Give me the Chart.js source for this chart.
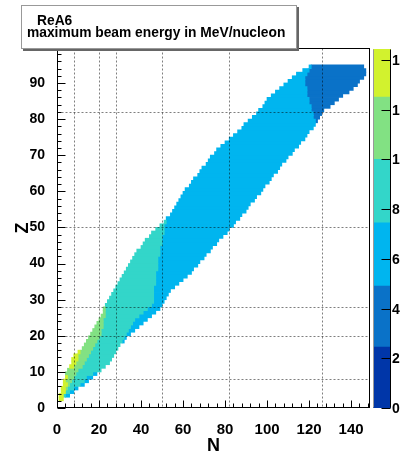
<!DOCTYPE html>
<html>
<head>
<meta charset="utf-8">
<title>ReA6 - maximum beam energy</title>
<script src="https://cdn.jsdelivr.net/npm/chart.js"></script>
<style>
    html, body {
        margin: 0;
        padding: 0;
        background: #fff;
        width: 400px;
        height: 457px;
        overflow: hidden;
    }
    body {
        position: relative;
        font-family: 'Liberation Sans', Arial, sans-serif;
    }
    #main { position: absolute; left: 0; top: 0; }
    #palette { position: absolute; left: 360px; top: 0; z-index: 1; }
    .pave {
        position: absolute;
        left: 21px;
        top: 5px;
        width: 274px;
        height: 42px;
        background: #fff;
        border: 1px solid #999;
        box-shadow: 2px 2px 0 #666;
        z-index: 2;
    }
    .pave div {
        position: absolute;
        font-weight: bold;
        font-size: 13.8px;
        line-height: 14px;
        white-space: nowrap;
        color: #000;
    }
</style>
</head>
<body>

<canvas id="main" width="400" height="457"></canvas>
<canvas id="palette" width="40" height="457"></canvas>

<div class="pave">
    <div style="left:15px; top:8px;">ReA6</div>
    <div style="left:5px; top:19.5px;">maximum beam energy in MeV/nucleon</div>
</div>

<script>
    // one row per Z bin; each row starts at nFirst and is split into colour bands
    // (widths in N bins), from the highest energy (left) to the lowest (right)
    const zRows = [
        2, 3, 4, 5, 6, 7, 8, 9, 10, 11,
        12, 13, 14, 15, 16, 17, 18, 19, 20, 21,
        22, 23, 24, 25, 26, 27, 28, 29, 30, 31,
        32, 33, 34, 35, 36, 37, 38, 39, 40, 41,
        42, 43, 44, 45, 46, 47, 48, 49, 50, 51,
        52, 53, 54, 55, 56, 57, 58, 59, 60, 61,
        62, 63, 64, 65, 66, 67, 68, 69, 70, 71,
        72, 73, 74, 75, 76, 77, 78, 79, 80, 81,
        82, 83, 84, 85, 86, 87, 88, 89, 90, 91,
        92, 93, 94
    ];
    const nFirst = [
        1, 1, 2, 2, 3, 3, 4, 4, 5, 6,
        7, 7, 8, 10, 12, 13, 14, 15, 16, 17,
        18, 19, 20, 21, 22, 22, 23, 24, 25, 26,
        27, 28, 29, 30, 31, 32, 33, 34, 35, 36,
        37, 38, 40, 41, 42, 44, 45, 47, 49, 51,
        52, 54, 55, 56, 57, 58, 59, 60, 61, 63,
        64, 65, 67, 68, 69, 71, 72, 73, 75, 76,
        78, 80, 82, 84, 86, 88, 89, 91, 93, 95,
        96, 98, 99, 100, 102, 104, 106, 108, 110, 112,
        114, 117, 120
    ];
    const wYellow = [
        2, 2, 2, 2, 2, 1, 1, 0, 0, 2,
        2, 3, 2, 1, 0, 0, 0, 0, 0, 0,
        0, 0, 0, 0, 0, 0, 0, 0, 0, 0,
        0, 0, 0, 0, 0, 0, 0, 0, 0, 0,
        0, 0, 0, 0, 0, 0, 0, 0, 0, 0,
        0, 0, 0, 0, 0, 0, 0, 0, 0, 0,
        0, 0, 0, 0, 0, 0, 0, 0, 0, 0,
        0, 0, 0, 0, 0, 0, 0, 0, 0, 0,
        0, 0, 0, 0, 0, 0, 0, 0, 0, 0,
        0, 0, 0
    ];
    const wGreen = [
        0, 0, 0, 1, 1, 3, 3, 5, 5, 4,
        4, 4, 5, 5, 5, 5, 5, 5, 5, 4,
        4, 3, 2, 2, 1, 1, 0, 0, 0, 0,
        0, 0, 0, 0, 0, 0, 0, 0, 0, 0,
        0, 0, 0, 0, 0, 0, 0, 0, 0, 0,
        0, 0, 0, 0, 0, 0, 0, 0, 0, 0,
        0, 0, 0, 0, 0, 0, 0, 0, 0, 0,
        0, 0, 0, 0, 0, 0, 0, 0, 0, 0,
        0, 0, 0, 0, 0, 0, 0, 0, 0, 0,
        0, 0, 0
    ];
    const wTurq = [
        0, 1, 2, 3, 5, 6, 6, 8, 11, 11,
        12, 12, 12, 12, 12, 12, 12, 12, 12, 13,
        13, 14, 15, 16, 18, 20, 22, 22, 21, 20,
        19, 18, 18, 17, 16, 15, 15, 14, 13, 12,
        12, 11, 9, 9, 8, 6, 6, 4, 2, 1,
        0, 0, 0, 0, 0, 0, 0, 0, 0, 0,
        0, 0, 0, 0, 0, 0, 0, 0, 0, 0,
        0, 0, 0, 0, 0, 0, 0, 0, 0, 0,
        0, 0, 0, 0, 0, 0, 0, 0, 0, 0,
        0, 0, 0
    ];
    const wLight = [
        0, 2, 2, 2, 2, 2, 3, 2, 0, 0,
        0, 0, 0, 0, 0, 0, 1, 1, 2, 3,
        4, 5, 6, 6, 6, 6, 5, 5, 6, 7,
        8, 10, 11, 13, 15, 17, 17, 19, 20, 22,
        22, 24, 25, 26, 27, 29, 30, 31, 33, 33,
        35, 34, 35, 35, 35, 36, 36, 37, 37, 36,
        37, 37, 36, 37, 37, 36, 37, 37, 37, 37,
        37, 36, 36, 35, 34, 34, 34, 32, 29, 27,
        25, 23, 21, 20, 17, 15, 13, 10, 8, 6,
        5, 3, 1
    ];
    const wMedium = [
        0, 0, 0, 0, 0, 0, 0, 0, 0, 0,
        0, 0, 0, 0, 0, 0, 0, 0, 0, 0,
        0, 0, 0, 0, 0, 0, 0, 0, 0, 0,
        0, 0, 0, 0, 0, 0, 0, 0, 0, 0,
        0, 0, 0, 0, 0, 0, 0, 0, 0, 0,
        0, 0, 0, 0, 0, 0, 0, 0, 0, 0,
        0, 0, 0, 0, 0, 0, 0, 0, 0, 0,
        0, 0, 0, 0, 0, 0, 0, 1, 3, 4,
        6, 9, 12, 14, 17, 20, 22, 25, 26, 28,
        28, 27, 25
    ];
    // energy (MeV/u) shown by each band above, same order
    const bandEnergy = [13.5, 11.2, 8.7, 6.2, 3.7];

    const paletteEdges = [0, 2.45, 4.9, 7.45, 10.0, 12.5, 14.44];
    const paletteColors = ['#0036a8', '#0a72c8', '#00b5ef', '#33d6c9', '#82e183', '#d2f22e'];

    const magicN = [8, 20, 28, 50, 82, 126];
    const magicZ = [8, 20, 28, 50, 82];

    const FONT = "'Liberation Sans', Arial, sans-serif";
    Chart.defaults.font.family = FONT;
    Chart.defaults.color = '#000';

    function colorFor(e) {
        for (let i = 0; i < paletteColors.length; i++) {
            if (e < paletteEdges[i + 1]) return paletteColors[i];
        }
        return paletteColors[paletteColors.length - 1];
    }

    const widths = [wYellow, wGreen, wTurq, wLight, wMedium];
    const datasets = bandEnergy.map(e => ({
        label: e + ' MeV/u',
        data: [],
        backgroundColor: colorFor(e),
        borderWidth: 0,
        inflateAmount: 0.4
    }));
    zRows.forEach((z, i) => {
        let n = nFirst[i];
        widths.forEach((w, k) => {
            if (w[i] > 0) datasets[k].data.push({ y: z + 0.5, x: [n, n + w[i]] });
            n += w[i];
        });
    });

    function line(ctx, x1, y1, x2, y2) {
        ctx.beginPath();
        ctx.moveTo(x1, y1);
        ctx.lineTo(x2, y2);
        ctx.stroke();
    }

    // ROOT style frame: dotted grid at the magic numbers, inward ticks
    const rootFrame = {
        id: 'rootFrame',
        afterDatasetsDraw(chart) {
            const { ctx, chartArea: a, scales: { x, y } } = chart;
            const L = Math.round(a.left) + 0.5, R = Math.round(a.right) - 0.5;
            const T = Math.round(a.top) + 0.5, B = Math.round(a.bottom) - 0.5;
            ctx.save();
            ctx.lineWidth = 1;
            ctx.strokeStyle = 'rgba(0,0,0,0.5)';
            ctx.setLineDash([2, 2]);
            magicN.forEach(n => {
                const px = Math.round(x.getPixelForValue(n)) + 0.5;
                line(ctx, px, T, px, B);
            });
            magicZ.forEach(z => {
                const py = Math.round(y.getPixelForValue(z)) + 0.5;
                line(ctx, L, py, R, py);
            });
            ctx.setLineDash([]);
            ctx.strokeStyle = '#000';
            ctx.strokeRect(L, T, R - L, B - T);

            for (let v = 0; v <= y.max; v += 2) {
                const py = Math.round(y.getPixelForValue(v)) + 0.5;
                line(ctx, L, py, L + (v % 10 === 0 ? 8 : 4), py);
            }
            for (let v = 0; v <= x.max; v += 4) {
                const px = Math.round(x.getPixelForValue(v)) + 0.5;
                line(ctx, px, B, px, B - (v % 20 === 0 ? 7 : 4));
            }
            ctx.restore();
        }
    };

    new Chart(document.getElementById('main'), {
        type: 'bar',
        data: { datasets: datasets },
        options: {
            responsive: false,
            animation: false,
            indexAxis: 'y',
            layout: { padding: { left: 0, top: 48, right: 30, bottom: 0 } },
            datasets: { bar: { grouped: false, barPercentage: 1, categoryPercentage: 1 } },
            plugins: { legend: { display: false }, tooltip: { enabled: false } },
            scales: {
                x: {
                    type: 'linear',
                    min: 0,
                    max: 149,
                    ticks: {
                        stepSize: 20,
                        includeBounds: false,
                        maxRotation: 0,
                        padding: 5,
                        color: '#000',
                        font: { size: 15, weight: 'bold' }
                    },
                    grid: { display: false },
                    border: { display: false },
                    title: {
                        display: true,
                        text: 'N',
                        color: '#000',
                        font: { size: 18, weight: 'bold' },
                        padding: { top: 0, bottom: 0 }
                    },
                    afterFit: s => { s.height = 49; }
                },
                y: {
                    type: 'linear',
                    min: 0,
                    max: 99.7,
                    offset: false,
                    ticks: {
                        stepSize: 10,
                        includeBounds: false,
                        padding: 4,
                        color: '#000',
                        font: { size: 14, weight: 'bold' }
                    },
                    grid: { display: false, offset: false },
                    border: { display: false },
                    title: {
                        display: true,
                        text: 'Z',
                        color: '#000',
                        font: { size: 18, weight: 'bold' },
                        padding: { top: 12, bottom: 0 }
                    },
                    afterFit: s => { s.width = 57; }
                }
            }
        },
        plugins: [rootFrame]
    });

    // colour palette on the right; its labels run past the window edge as in the original
    const paletteAxis = {
        id: 'paletteAxis',
        afterDatasetsDraw(chart) {
            const { ctx, chartArea: a, scales: { y } } = chart;
            const L = Math.round(a.left) + 0.5, R = Math.round(a.right) - 0.5;
            const T = Math.round(a.top) + 0.5, B = Math.round(a.bottom) - 0.5;
            ctx.save();
            ctx.lineWidth = 1;
            ctx.strokeStyle = '#999';
            line(ctx, L, T, L, B);
            ctx.strokeStyle = '#000';
            line(ctx, R, T, R, B);
            ctx.fillStyle = '#000';
            ctx.font = 'bold 14px ' + FONT;
            ctx.textAlign = 'left';
            ctx.textBaseline = 'middle';
            y.ticks.forEach(t => {
                const py = Math.round(y.getPixelForValue(t.value)) + 0.5;
                line(ctx, R - 9, py, R, py);
                ctx.fillText(String(t.value), R + 1.5, py + 0.5);
            });
            ctx.restore();
        }
    };

    new Chart(document.getElementById('palette'), {
        type: 'bar',
        data: {
            labels: [''],
            datasets: paletteColors.map((c, i) => ({
                data: [[paletteEdges[i], paletteEdges[i + 1]]],
                backgroundColor: c,
                borderWidth: 0,
                inflateAmount: 0.4
            }))
        },
        options: {
            responsive: false,
            animation: false,
            layout: { padding: { left: 13, top: 49, right: 9, bottom: 49 } },
            datasets: { bar: { grouped: false, barPercentage: 1, categoryPercentage: 1 } },
            plugins: { legend: { display: false }, tooltip: { enabled: false } },
            scales: {
                x: { display: false },
                y: {
                    display: false,
                    min: 0,
                    max: paletteEdges[paletteEdges.length - 1],
                    ticks: { stepSize: 2, includeBounds: false }
                }
            }
        },
        plugins: [paletteAxis]
    });
</script>

</body>
</html>
